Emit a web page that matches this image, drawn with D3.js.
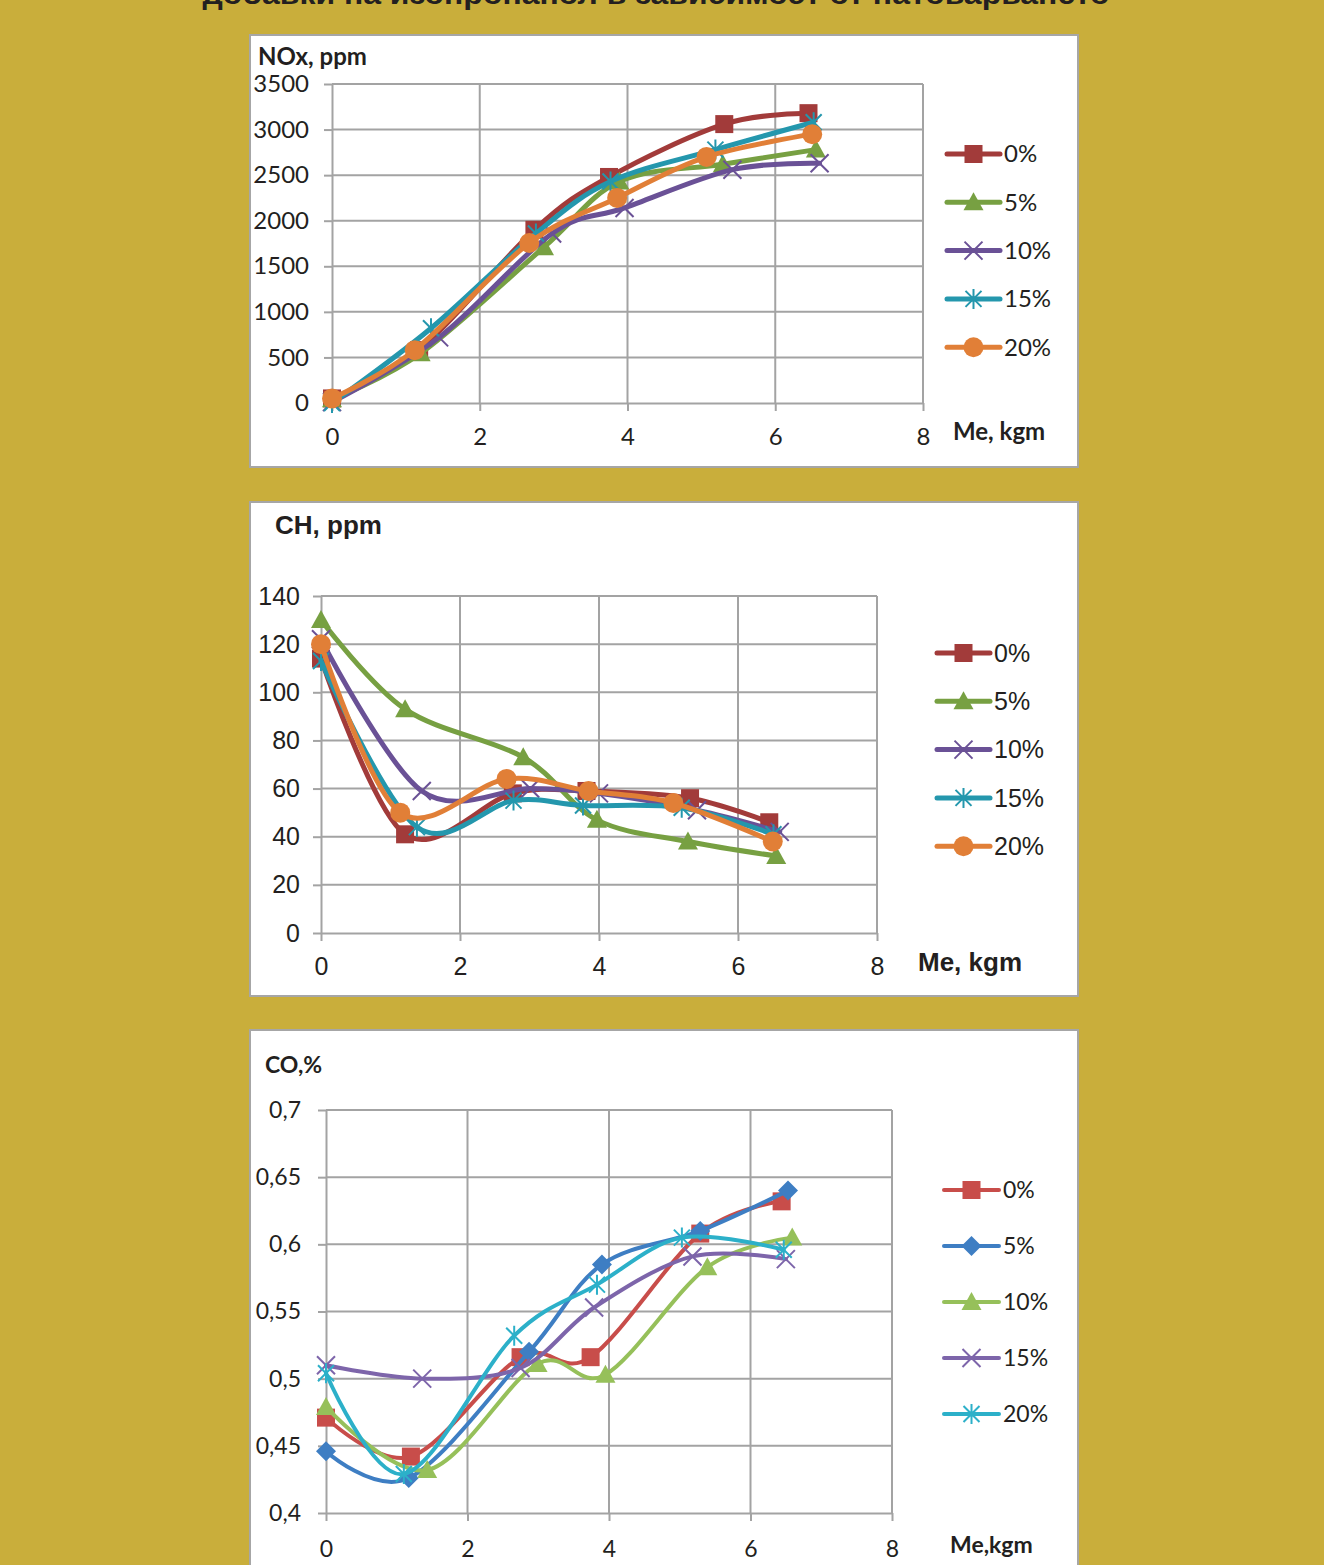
<!DOCTYPE html>
<html>
<head>
<meta charset="utf-8">
<script src="https://cdn.jsdelivr.net/npm/d3@7"></script>
<style>
  html, body { margin: 0; padding: 0; background: #c9ae3b; }
  svg { display: block; }
</style>
</head>
<body>
<svg id="chart" width="1324" height="1565"></svg>
<script>
// ---------- data ----------
const seriesNames = ["0%", "5%", "10%", "15%", "20%"];

// NOx, ppm vs Me, kgm
const noxX0 = [0, 1.18, 2.74, 3.75, 5.31, 6.45];
const noxY0 = [50, 580, 1900, 2480, 3060, 3180];
const noxX5 = [0, 1.20, 2.87, 3.89, 5.29, 6.55];
const noxY5 = [40, 545, 1710, 2430, 2620, 2780];
const noxX10 = [0, 1.45, 2.98, 3.96, 5.42, 6.60];
const noxY10 = [10, 720, 1860, 2140, 2560, 2630];
const noxX15 = [0, 1.34, 2.76, 3.77, 5.19, 6.52];
const noxY15 = [0, 820, 1860, 2430, 2780, 3080];
const noxX20 = [0, 1.12, 2.67, 3.86, 5.07, 6.50];
const noxY20 = [50, 580, 1755, 2250, 2700, 2950];
const noxTicks = [0, 500, 1000, 1500, 2000, 2500, 3000, 3500];
const noxTickLabels = ["0", "500", "1000", "1500", "2000", "2500", "3000", "3500"];

// CH, ppm vs Me, kgm
const chX0 = [0, 1.21, 2.76, 3.82, 5.31, 6.45];
const chY0 = [114, 41, 58, 59, 56, 46];
const chX5 = [0, 1.21, 2.91, 3.97, 5.28, 6.55];
const chY5 = [130, 93, 73, 47, 38, 32];
const chX10 = [0, 1.45, 3.01, 4.00, 5.41, 6.60];
const chY10 = [122, 59, 60, 58, 51, 42];
const chX15 = [0, 1.38, 2.77, 3.77, 5.19, 6.51];
const chY15 = [113, 44, 55, 53, 52, 41];
const chX20 = [0, 1.14, 2.67, 3.85, 5.07, 6.50];
const chY20 = [120, 50, 64, 59, 54, 38];
const chTicks = [0, 20, 40, 60, 80, 100, 120, 140];
const chTickLabels = ["0", "20", "40", "60", "80", "100", "120", "140"];

// CO, % vs Me, kgm
const coX0 = [0, 1.20, 2.75, 3.74, 5.29, 6.44];
const coY0 = [0.471, 0.442, 0.516, 0.516, 0.608, 0.632];
const coX5 = [0, 1.17, 2.87, 3.90, 5.29, 6.53];
const coY5 = [0.446, 0.426, 0.520, 0.585, 0.610, 0.640];
const coX10 = [0, 1.43, 2.99, 3.95, 5.39, 6.59];
const coY10 = [0.479, 0.432, 0.511, 0.503, 0.583, 0.605];
const coX15 = [0, 1.36, 2.75, 3.79, 5.18, 6.50];
const coY15 = [0.510, 0.500, 0.508, 0.553, 0.591, 0.589];
const coX20 = [0, 1.10, 2.66, 3.83, 5.03, 6.47];
const coY20 = [0.504, 0.429, 0.532, 0.570, 0.605, 0.596];
const coTicks = [0.4, 0.45, 0.5, 0.55, 0.6, 0.65, 0.7];
const coTickLabels = ["0,4", "0,45", "0,5", "0,55", "0,6", "0,65", "0,7"];

const meTicks = [0, 2, 4, 6, 8];
const meTickLabels = ["0", "2", "4", "6", "8"];

const pageTitle = "добавки на изопропанол в зависимост от натоварването";

// ---------- drawing ----------
const svg = d3.select("#chart");
svg.append("rect").attr("width", 1324).attr("height", 1565).attr("fill", "#c9ae3b");

svg.append("text")
  .attr("x", 656).attr("y", 4)
  .attr("text-anchor", "middle")
  .attr("font-family", "Liberation Sans, Arial, sans-serif")
  .attr("font-weight", "bold")
  .attr("font-size", 30)
  .attr("fill", "#231f20")
  .attr("textLength", 907)
  .attr("lengthAdjust", "spacingAndGlyphs")
  .text(pageTitle);

const GRID = "#a3a3a3";

function drawMarker(g, type, cx, cy, color) {
  switch (type) {
    case "square":
      g.append("rect").attr("x", cx - 9).attr("y", cy - 9).attr("width", 18).attr("height", 18).attr("fill", color);
      break;
    case "triangle":
      g.append("path").attr("d", `M${cx},${cy - 10}L${cx + 10},${cy + 8}L${cx - 10},${cy + 8}Z`).attr("fill", color);
      break;
    case "diamond":
      g.append("path").attr("d", `M${cx},${cy - 10}L${cx + 10},${cy}L${cx},${cy + 10}L${cx - 10},${cy}Z`).attr("fill", color);
      break;
    case "circle":
      g.append("circle").attr("cx", cx).attr("cy", cy).attr("r", 10).attr("fill", color);
      break;
    case "x":
      g.append("path").attr("d", `M${cx - 9},${cy - 9}L${cx + 9},${cy + 9}M${cx + 9},${cy - 9}L${cx - 9},${cy + 9}`)
        .attr("stroke", color).attr("stroke-width", 2).attr("fill", "none");
      break;
    case "star":
      g.append("path").attr("d", `M${cx - 8},${cy - 8}L${cx + 8},${cy + 8}M${cx + 8},${cy - 8}L${cx - 8},${cy + 8}M${cx},${cy - 10}L${cx},${cy + 10}`)
        .attr("stroke", color).attr("stroke-width", 2).attr("fill", "none");
      break;
  }
}

function drawPanel(cfg) {
  const g = svg.append("g");
  g.append("rect")
    .attr("x", cfg.box.x).attr("y", cfg.box.y)
    .attr("width", cfg.box.w).attr("height", cfg.box.h)
    .attr("fill", "#ffffff").attr("stroke", "#a6a6a6").attr("stroke-width", 2);

  const x = d3.scaleLinear().domain([0, 8]).range([cfg.plot.l, cfg.plot.r]);
  const y = d3.scaleLinear().domain(cfg.yDomain).range([cfg.plot.b, cfg.plot.t]);

  // gridlines
  g.append("g").selectAll("line.h").data(cfg.yTicks.slice(1)).join("line")
    .attr("x1", cfg.plot.l).attr("x2", cfg.plot.r)
    .attr("y1", d => y(d)).attr("y2", d => y(d))
    .attr("stroke", GRID).attr("stroke-width", 2);
  g.append("g").selectAll("line.v").data(meTicks.slice(1)).join("line")
    .attr("x1", d => x(d)).attr("x2", d => x(d))
    .attr("y1", cfg.plot.t).attr("y2", cfg.plot.b)
    .attr("stroke", GRID).attr("stroke-width", 2);

  // axes
  const yAxis = d3.axisLeft(y).tickValues(cfg.yTicks)
    .tickFormat((d, i) => cfg.yLabels[i]).tickSize(8).tickSizeOuter(0).tickPadding(cfg.yPad);
  const xAxis = d3.axisBottom(x).tickValues(meTicks)
    .tickFormat((d, i) => meTickLabels[i]).tickSize(8).tickSizeOuter(0).tickPadding(cfg.xPad);

  const ya = g.append("g").attr("transform", `translate(${cfg.plot.l},0)`).call(yAxis);
  const xa = g.append("g").attr("transform", `translate(0,${cfg.plot.b})`).call(xAxis);
  [ya, xa].forEach(a => {
    a.select(".domain").attr("stroke", GRID).attr("stroke-width", 2);
    a.selectAll(".tick line").attr("stroke", GRID).attr("stroke-width", 2);
    a.selectAll(".tick text")
      .attr("fill", "#231f20")
      .attr("font-family", cfg.font)
      .attr("font-size", cfg.tickSize);
  });

  // axis titles
  g.append("text").attr("x", cfg.yTitle.x).attr("y", cfg.yTitle.y)
    .attr("font-family", cfg.font).attr("font-weight", "bold").attr("font-size", cfg.titleSize)
    .attr("fill", "#231f20").text(cfg.yTitle.text);
  g.append("text").attr("x", cfg.xTitle.x).attr("y", cfg.xTitle.y)
    .attr("font-family", cfg.font).attr("font-weight", "bold").attr("font-size", cfg.titleSize)
    .attr("fill", "#231f20").text(cfg.xTitle.text);

  // series
  const line = d3.line().x(d => x(d[0])).y(d => y(d[1])).curve(d3.curveCardinal.tension(0));
  cfg.series.forEach(s => {
    const pts = s.xs.map((v, i) => [v, s.ys[i]]);
    const sg = g.append("g");
    sg.append("path").attr("d", line(pts))
      .attr("fill", "none").attr("stroke", s.color).attr("stroke-width", cfg.lineWidth)
      .attr("stroke-linejoin", "round").attr("stroke-linecap", "round");
    pts.forEach(p => drawMarker(sg, s.marker, x(p[0]), y(p[1]), s.color));
  });

  // legend
  cfg.series.forEach((s, i) => {
    const ly = cfg.legend.y0 + i * cfg.legend.dy;
    const lg = g.append("g");
    lg.append("line").attr("x1", cfg.legend.x1).attr("x2", cfg.legend.x2)
      .attr("y1", ly).attr("y2", ly)
      .attr("stroke", s.color).attr("stroke-width", cfg.lineWidth).attr("stroke-linecap", "round");
    drawMarker(lg, s.marker, (cfg.legend.x1 + cfg.legend.x2) / 2, ly, s.color);
    lg.append("text").attr("x", cfg.legend.x2 + 4).attr("y", ly)
      .attr("dy", "0.35em")
      .attr("font-family", cfg.font).attr("font-size", cfg.legendSize)
      .attr("fill", "#231f20").text(seriesNames[i]);
  });
}

const warm = { red: "#a23b3a", green: "#77a042", purple: "#6a5196", teal: "#2497ad", orange: "#e17f37" };
const cool = { red: "#c84d4a", blue: "#3e7ec3", green: "#96c05a", purple: "#7d65aa", teal: "#2cb0c9" };

drawPanel({
  box: { x: 250, y: 35, w: 828, h: 432 },
  plot: { l: 332, r: 923, t: 84, b: 403 },
  yDomain: [0, 3500], yTicks: noxTicks, yLabels: noxTickLabels,
  font: "Lato, 'Open Sans', sans-serif", tickSize: 24, titleSize: 24, legendSize: 24,
  yPad: 15, xPad: 17, lineWidth: 5,
  yTitle: { x: 258, y: 65, text: "NOx, ppm" },
  xTitle: { x: 953, y: 440, text: "Me, kgm" },
  legend: { x1: 947, x2: 1000, y0: 154, dy: 48.3 },
  series: [
    { xs: noxX0, ys: noxY0, color: warm.red, marker: "square" },
    { xs: noxX5, ys: noxY5, color: warm.green, marker: "triangle" },
    { xs: noxX10, ys: noxY10, color: warm.purple, marker: "x" },
    { xs: noxX15, ys: noxY15, color: warm.teal, marker: "star" },
    { xs: noxX20, ys: noxY20, color: warm.orange, marker: "circle" }
  ]
});

drawPanel({
  box: { x: 250, y: 502, w: 828, h: 494 },
  plot: { l: 321, r: 877, t: 596, b: 933 },
  yDomain: [0, 140], yTicks: chTicks, yLabels: chTickLabels,
  font: "'Liberation Sans', Arial, sans-serif", tickSize: 25, titleSize: 26, legendSize: 25,
  yPad: 13, xPad: 16, lineWidth: 5,
  yTitle: { x: 275, y: 534, text: "CH, ppm" },
  xTitle: { x: 918, y: 971, text: "Me, kgm" },
  legend: { x1: 937, x2: 990, y0: 653, dy: 48.3 },
  series: [
    { xs: chX0, ys: chY0, color: warm.red, marker: "square" },
    { xs: chX5, ys: chY5, color: warm.green, marker: "triangle" },
    { xs: chX10, ys: chY10, color: warm.purple, marker: "x" },
    { xs: chX15, ys: chY15, color: warm.teal, marker: "star" },
    { xs: chX20, ys: chY20, color: warm.orange, marker: "circle" }
  ]
});

drawPanel({
  box: { x: 250, y: 1030, w: 828, h: 560 },
  plot: { l: 326, r: 892, t: 1110, b: 1513 },
  yDomain: [0.4, 0.7], yTicks: coTicks, yLabels: coTickLabels,
  font: "Lato, 'Open Sans', sans-serif", tickSize: 23, titleSize: 23, legendSize: 23,
  yPad: 17, xPad: 20, lineWidth: 4,
  yTitle: { x: 265, y: 1073, text: "CO,%" },
  xTitle: { x: 950, y: 1553, text: "Me,kgm" },
  legend: { x1: 944, x2: 999, y0: 1190, dy: 56 },
  series: [
    { xs: coX0, ys: coY0, color: cool.red, marker: "square" },
    { xs: coX5, ys: coY5, color: cool.blue, marker: "diamond" },
    { xs: coX10, ys: coY10, color: cool.green, marker: "triangle" },
    { xs: coX15, ys: coY15, color: cool.purple, marker: "x" },
    { xs: coX20, ys: coY20, color: cool.teal, marker: "star" }
  ]
});
</script>
</body>
</html>
